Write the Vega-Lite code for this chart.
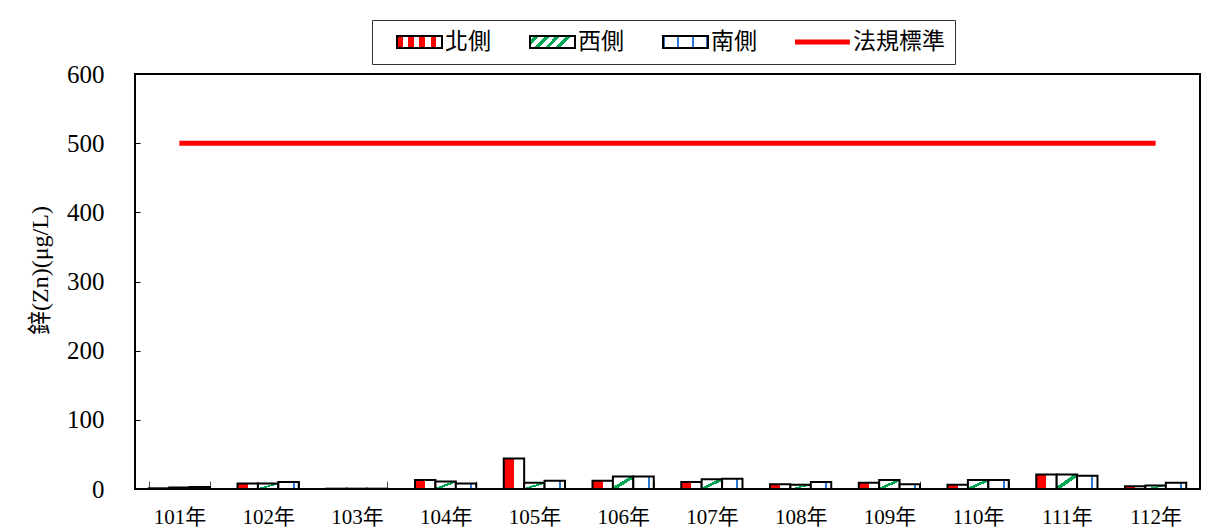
{
  "$schema": "https://vega.github.io/schema/vega-lite/v6.json",
  "width": 1065,
  "height": 415,
  "autosize": {"type": "none"},
  "padding": {"left": 135, "top": 74, "right": 13, "bottom": 43},
  "background": "white",
  "config": {
    "view": {"stroke": "#000000", "strokeWidth": 2},
    "font": "Times New Roman, Liberation Serif, Noto Sans CJK TC, serif"
  },
  "datasets": {
    "bars": [
      {"year": "101年", "side": "北側", "value": 1},
      {"year": "101年", "side": "西側", "value": 2},
      {"year": "101年", "side": "南側", "value": 3},
      {"year": "102年", "side": "北側", "value": 8},
      {"year": "102年", "side": "西側", "value": 8},
      {"year": "102年", "side": "南側", "value": 10},
      {"year": "103年", "side": "北側", "value": 0.5},
      {"year": "103年", "side": "西側", "value": 0.5},
      {"year": "103年", "side": "南側", "value": 0.5},
      {"year": "104年", "side": "北側", "value": 13},
      {"year": "104年", "side": "西側", "value": 11},
      {"year": "104年", "side": "南側", "value": 8},
      {"year": "105年", "side": "北側", "value": 44},
      {"year": "105年", "side": "西側", "value": 9},
      {"year": "105年", "side": "南側", "value": 12},
      {"year": "106年", "side": "北側", "value": 12},
      {"year": "106年", "side": "西側", "value": 18},
      {"year": "106年", "side": "南側", "value": 18},
      {"year": "107年", "side": "北側", "value": 10},
      {"year": "107年", "side": "西側", "value": 14},
      {"year": "107年", "side": "南側", "value": 15},
      {"year": "108年", "side": "北側", "value": 7},
      {"year": "108年", "side": "西側", "value": 6},
      {"year": "108年", "side": "南側", "value": 10},
      {"year": "109年", "side": "北側", "value": 9},
      {"year": "109年", "side": "西側", "value": 13},
      {"year": "109年", "side": "南側", "value": 7},
      {"year": "110年", "side": "北側", "value": 6},
      {"year": "110年", "side": "西側", "value": 13},
      {"year": "110年", "side": "南側", "value": 13},
      {"year": "111年", "side": "北側", "value": 21},
      {"year": "111年", "side": "西側", "value": 21},
      {"year": "111年", "side": "南側", "value": 19},
      {"year": "112年", "side": "北側", "value": 4},
      {"year": "112年", "side": "西側", "value": 5},
      {"year": "112年", "side": "南側", "value": 9}
    ],
    "standard": [
      {"year": "101年", "side": "法規標準", "value": 500},
      {"year": "102年", "side": "法規標準", "value": 500},
      {"year": "103年", "side": "法規標準", "value": 500},
      {"year": "104年", "side": "法規標準", "value": 500},
      {"year": "105年", "side": "法規標準", "value": 500},
      {"year": "106年", "side": "法規標準", "value": 500},
      {"year": "107年", "side": "法規標準", "value": 500},
      {"year": "108年", "side": "法規標準", "value": 500},
      {"year": "109年", "side": "法規標準", "value": 500},
      {"year": "110年", "side": "法規標準", "value": 500},
      {"year": "111年", "side": "法規標準", "value": 500},
      {"year": "112年", "side": "法規標準", "value": 500}
    ]
  },
  "encoding": {
    "x": {
      "field": "year",
      "type": "ordinal",
      "scale": {"paddingInner": 0.31, "paddingOuter": 0.155},
      "axis": {
        "title": null,
        "labelAngle": 0,
        "labelFont": "Times New Roman, Liberation Serif, Noto Sans CJK TC, serif",
        "labelFontSize": 21,
        "labelColor": "#000000",
        "labelPadding": 25,
        "tickBand": "extent",
        "tickSize": -8,
        "tickColor": "#555555",
        "tickWidth": 1,
        "domain": false
      }
    },
    "y": {
      "field": "value",
      "type": "quantitative",
      "scale": {"domain": [0, 600], "nice": false},
      "axis": {
        "title": "鋅(Zn)(μg/L)",
        "titleFont": "Times New Roman, Liberation Serif, Noto Sans CJK TC, serif",
        "titleFontSize": 24,
        "titleFontWeight": "normal",
        "titleColor": "#000000",
        "titlePadding": 14,
        "titleY": 196,
        "values": [0, 100, 200, 300, 400, 500, 600],
        "labelFont": "Times New Roman, Liberation Serif, serif",
        "labelFontSize": 25,
        "labelColor": "#000000",
        "labelPadding": 36,
        "tickSize": -5,
        "tickColor": "#000000",
        "tickWidth": 1,
        "grid": false,
        "domain": false
      }
    }
  },
  "layer": [
    {
      "data": {"name": "bars"},
      "mark": {"type": "bar", "strokeWidth": 2},
      "encoding": {
        "xOffset": {"field": "side", "type": "nominal", "scale": {"domain": ["北側", "西側", "南側"], "paddingInner": 0, "paddingOuter": 0}},
        "stroke": {
          "field": "side",
          "type": "nominal",
          "scale": {"domain": ["北側", "西側", "南側", "法規標準"], "range": ["#000000", "#000000", "#000000", "#FF0000"]},
          "legend": {
            "title": null,
            "orient": "none",
            "legendX": 237,
            "legendY": -54,
            "direction": "horizontal",
            "columns": 4,
            "columnPadding": 24,
            "padding": 10,
            "clipHeight": 24,
            "strokeColor": "#333333",
            "fillColor": "#FFFFFF",
            "symbolSize": 2025,
            "symbolOffset": 14,
            "labelFont": "Noto Sans CJK TC",
            "labelFontSize": 23,
            "labelColor": "#000000",
            "labelOffset": 2,
            "labelLimit": 200,
            "encoding": {
              "labels": {
                "dx": {"value": {"expr": "datum.value === '法規標準' ? 9 : 0"}}
              },
              "symbols": {
                "shape": {"value": {"expr": "datum.value === '法規標準' ? 'M-1,-0.07H1.35V0.07H-1Z' : 'M-1,-0.27H1V0.27H-1Z'"}},
                "strokeWidth": {"value": 2},
                "opacity": {"value": 1},
                "fill": {"value": {"expr": "datum.value === '北側' ? {gradient: 'linear', x1: 0, y1: 0, x2: 1, y2: 0, stops: [{offset: 0, color: '#FF0000'}, {offset: 0.125, color: '#FF0000'}, {offset: 0.125, color: '#FFFFFF'}, {offset: 0.25, color: '#FFFFFF'}, {offset: 0.25, color: '#FF0000'}, {offset: 0.375, color: '#FF0000'}, {offset: 0.375, color: '#FFFFFF'}, {offset: 0.5, color: '#FFFFFF'}, {offset: 0.5, color: '#FF0000'}, {offset: 0.625, color: '#FF0000'}, {offset: 0.625, color: '#FFFFFF'}, {offset: 0.75, color: '#FFFFFF'}, {offset: 0.75, color: '#FF0000'}, {offset: 0.875, color: '#FF0000'}, {offset: 0.875, color: '#FFFFFF'}, {offset: 1, color: '#FFFFFF'}]} : datum.value === '西側' ? {gradient: 'linear', x1: 0, y1: 0, x2: 1, y2: 0.267, stops: [{offset: 0, color: '#FFFFFF'}, {offset: 0.1, color: '#FFFFFF'}, {offset: 0.1, color: '#00A651'}, {offset: 0.2, color: '#00A651'}, {offset: 0.2, color: '#FFFFFF'}, {offset: 0.32, color: '#FFFFFF'}, {offset: 0.32, color: '#00A651'}, {offset: 0.42, color: '#00A651'}, {offset: 0.42, color: '#FFFFFF'}, {offset: 0.54, color: '#FFFFFF'}, {offset: 0.54, color: '#00A651'}, {offset: 0.64, color: '#00A651'}, {offset: 0.64, color: '#FFFFFF'}, {offset: 0.76, color: '#FFFFFF'}, {offset: 0.76, color: '#00A651'}, {offset: 0.86, color: '#00A651'}, {offset: 0.86, color: '#FFFFFF'}, {offset: 1, color: '#FFFFFF'}]} : datum.value === '南側' ? {gradient: 'linear', x1: 0, y1: 0, x2: 1, y2: 0, stops: [{offset: 0, color: '#2E75D6'}, {offset: 0.04, color: '#2E75D6'}, {offset: 0.04, color: '#FFFFFF'}, {offset: 0.31, color: '#FFFFFF'}, {offset: 0.31, color: '#2E75D6'}, {offset: 0.35, color: '#2E75D6'}, {offset: 0.35, color: '#FFFFFF'}, {offset: 0.64, color: '#FFFFFF'}, {offset: 0.64, color: '#2E75D6'}, {offset: 0.68, color: '#2E75D6'}, {offset: 0.68, color: '#FFFFFF'}, {offset: 0.96, color: '#FFFFFF'}, {offset: 0.96, color: '#2E75D6'}, {offset: 1, color: '#2E75D6'}]} : '#FF0000'"}}
              }
            }
          }
        },
        "fill": {
          "condition": [
            {"test": "datum.side === '北側'", "value": {"gradient": "linear", "x1": 0, "y1": 0, "x2": 1, "y2": 0, "stops": [
              {"offset": 0, "color": "#FF0000"}, {"offset": 0.5, "color": "#FF0000"}, {"offset": 0.5, "color": "#FFFFFF"}, {"offset": 1, "color": "#FFFFFF"}]}},
            {"test": "datum.side === '西側'", "value": {"gradient": "linear", "x1": 0, "y1": 0, "x2": 1, "y2": 1, "stops": [
              {"offset": 0, "color": "#FFFFFF"}, {"offset": 0.42, "color": "#FFFFFF"}, {"offset": 0.42, "color": "#00A651"}, {"offset": 0.58, "color": "#00A651"},
              {"offset": 0.58, "color": "#FFFFFF"}, {"offset": 1, "color": "#FFFFFF"}]}}
          ],
          "value": {"gradient": "linear", "x1": 0, "y1": 0, "x2": 1, "y2": 0, "stops": [
            {"offset": 0, "color": "#FFFFFF"}, {"offset": 0.7, "color": "#FFFFFF"}, {"offset": 0.7, "color": "#2E75D6"}, {"offset": 0.8, "color": "#2E75D6"},
            {"offset": 0.8, "color": "#FFFFFF"}, {"offset": 1, "color": "#FFFFFF"}]}
        }
      }
    },
    {
      "data": {"name": "standard"},
      "mark": {"type": "line", "strokeWidth": 5, "strokeCap": "butt"},
      "encoding": {
        "stroke": {"field": "side", "type": "nominal"}
      }
    }
  ]
}
